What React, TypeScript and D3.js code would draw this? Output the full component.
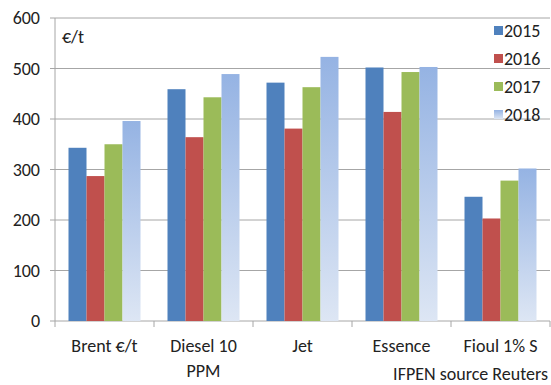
import React from "react";
import * as d3 from "d3";

const categories = ["Brent €/t", "Diesel 10\nPPM", "Jet", "Essence", "Fioul 1% S"];
const seriesNames = ["2015", "2016", "2017", "2018"];
const v2015 = [343, 459, 472, 502, 246];
const v2016 = [287, 364, 381, 414, 203];
const v2017 = [350, 443, 463, 493, 278];
const v2018 = [396, 489, 523, 503, 302];
const yTicks = [0, 100, 200, 300, 400, 500, 600];
const colors = ["#4F81BD", "#C0504D", "#9BBB59", "url(#g2018)"];

const W = 551, H = 385;
const left = 55, right = 550, top = 18, bottom = 321;
const font = "Carlito, 'Open Sans', 'Noto Sans', sans-serif";
const fs = 18;

export default function App() {
  const series = [v2015, v2016, v2017, v2018];
  const x0 = d3.scaleBand<string>().domain(categories).range([left, right]).paddingInner(0).paddingOuter(0);
  const x1 = d3.scaleBand<string>().domain(seriesNames).range([13.5, x0.bandwidth() - 13.5]).padding(0);
  const y = d3.scaleLinear().domain([0, 600]).range([bottom, top]);
  const ticksX = [...categories.map((c) => x0(c)!), right];

  return (
    <svg width={W} height={H} style={{ position: "absolute", left: 0, top: 0, background: "#fff" }} fontFamily={font}>
      <defs>
        <linearGradient id="g2018" x1="0" y1="0" x2="0" y2="1" gradientUnits="objectBoundingBox">
          <stop offset="0" stopColor="#95B3E3" />
          <stop offset="1" stopColor="#DDE6F4" />
        </linearGradient>
      </defs>
      {yTicks.map((t) => (
        <g key={t}>
          <line x1={50} x2={right} y1={y(t)} y2={y(t)} stroke="#A6A6A6" strokeWidth={1} />
          <text x={40} y={y(t)} dy="0.35em" textAnchor="end" fontSize={fs} fill="#222">{t}</text>
        </g>
      ))}
      <line x1={left} x2={left} y1={top} y2={bottom} stroke="#A6A6A6" />
      {ticksX.map((tx, i) => (
        <line key={i} x1={tx} x2={tx} y1={bottom} y2={bottom + 6} stroke="#A6A6A6" />
      ))}
      {categories.map((c, ci) => (
        <g key={c} transform={`translate(${x0(c)},0)`}>
          {seriesNames.map((s, si) => (
            <rect key={s} x={x1(s)} y={y(series[si][ci])} width={x1.bandwidth()} height={bottom - y(series[si][ci])} fill={colors[si]} />
          ))}
          {c.split("\n").map((line, li) => (
            <text key={li} x={x0.bandwidth() / 2} y={352 + li * 25} textAnchor="middle" fontSize={fs} fill="#222">{line}</text>
          ))}
        </g>
      ))}
      <text x={62} y={43} fontSize={fs} fill="#222">€/t</text>
      {seriesNames.map((s, i) => (
        <g key={s} transform={`translate(0,${31 + i * 28})`}>
          <rect x={494} y={-5} width={9} height={9} fill={colors[i]} />
          <text x={504} y={0} dy="0.35em" fontSize={fs} fill="#222">{s}</text>
        </g>
      ))}
      <text x={548} y={380} textAnchor="end" fontSize={fs} fill="#222">IFPEN source Reuters</text>
    </svg>
  );
}
